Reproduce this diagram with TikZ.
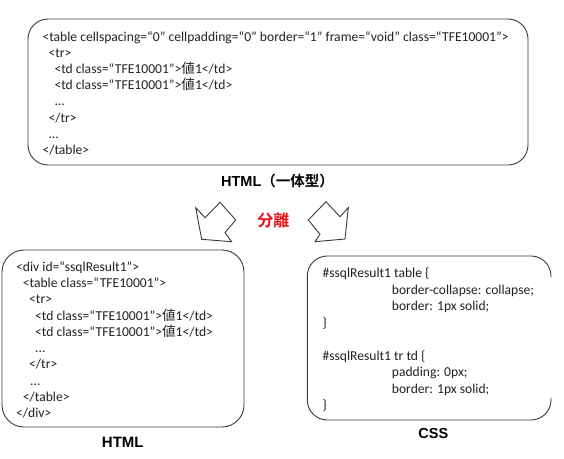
\documentclass[tikz,border=0pt]{standalone}
\usepackage{fontspec}
\setmainfont{Carlito}
\newfontfamily\jp{Noto Sans CJK JP}
\newfontfamily\jpb{Noto Sans CJK JP Bold}
\newfontfamily\lsb{Liberation Sans Bold}
\definecolor{edge}{HTML}{3A3A3A}
\definecolor{codetxt}{HTML}{222222}
\definecolor{sepred}{HTML}{E8141B}
\tikzset{
  box/.style={draw=edge, line width=0.9pt, rounded corners=#1},
  code/.style={anchor=base west, inner sep=0pt, text=codetxt, font=\fontsize{13.6}{16}\selectfont},
  caption/.style={anchor=center, inner sep=0pt, text=black},
  blockarrow/.style={draw=edge, line width=0.9pt, fill=white, line join=miter}
}
\newcommand{\atai}{{\jp 値}}
\begin{document}
\begin{tikzpicture}[x=1pt,y=-1pt]
\useasboundingbox (0,0) rectangle (564,458);
% top box
\draw[box=20] (28,19) rectangle (528,165);
\node[code] (t1) at (42.3,41.1) {<table cellspacing=“0” cellpadding=“0” border=“1” frame=“void” class=“TFE10001”>};
\node[code] (t2) at (48.3,57.3) {<tr>};
\node[code] (t3) at (54.3,73.5) {<td class=“TFE10001”>\atai 1</td>};
\node[code] (t4) at (54.3,89.7) {<td class=“TFE10001”>\atai 1</td>};
\node[code] (t5) at (54.3,105.9) {...};
\node[code] (t6) at (48.3,122.1) {</tr>};
\node[code] (t7) at (48.3,138.3) {...};
\node[code] (t8) at (42.3,154.5) {</table>};
\node[caption, font={\fontsize{14.5}{16}\lsb}] (cap1) at (277.5,181.3) {HTML{\jpb （一体型）}};
% separation arrows
\draw[blockarrow] (195.7,207.7) -- (205,217.7) -- (220,202.3) -- (235.7,220) -- (225,232.7) -- (231.7,241.7) -- (201.7,239.3) -- cycle;
\draw[blockarrow] (348.3,207.7) -- (340,216.7) -- (326,201.7) -- (308.3,220) -- (320,234.3) -- (315,241.7) -- (345,239) -- cycle;
\node[caption, text=sepred, font={\fontsize{16}{18}\jpb}] (sep) at (273.3,220) {分離};
% left box
\draw[box=22] (2,250) rectangle (244,427);
\node[code] (h1) at (16,271.1) {<div id=“ssqlResult1”>};
\node[code] (h2) at (22.7,287.4) {<table class=“TFE10001”>};
\node[code] (h3) at (29,303.7) {<tr>};
\node[code] (h4) at (35,320) {<td class=“TFE10001”>\atai 1</td>};
\node[code] (h5) at (35,336.3) {<td class=“TFE10001”>\atai 1</td>};
\node[code] (h6) at (35,352.6) {...};
\node[code] (h7) at (29,368.9) {</tr>};
\node[code] (h8) at (30,385.2) {...};
\node[code] (h9) at (22.7,401.5) {</table>};
\node[code] (h10) at (16,417.8) {</div>};
\node[caption, font={\fontsize{15}{16}\lsb}] (cap2) at (122.8,442.7) {HTML};
% css box (open on the right)
\draw[draw=edge, line width=0.9pt, rounded corners=20, line cap=round] (551,277) -- (551,256) -- (307.3,256) -- (307.3,420) -- (551,420) -- (551,398);
\node[code] (c1) at (322.3,277.7) {\#ssqlResult1 table \{};
\node[code] (c2) at (391.7,294.2) {border-collapse: collapse;};
\node[code] (c3) at (391.7,310.7) {border: 1px solid;};
\node[code] (c4) at (322.3,327.2) {\}};
\node[code] (c5) at (322.3,360.2) {\#ssqlResult1 tr td \{};
\node[code] (c6) at (391.7,376.7) {padding: 0px;};
\node[code] (c7) at (391.7,393.2) {border: 1px solid;};
\node[code] (c8) at (322.3,409.7) {\}};
\node[caption, font={\fontsize{14.5}{16}\lsb}] (cap3) at (433.3,433.3) {CSS};
\end{tikzpicture}
\end{document}
